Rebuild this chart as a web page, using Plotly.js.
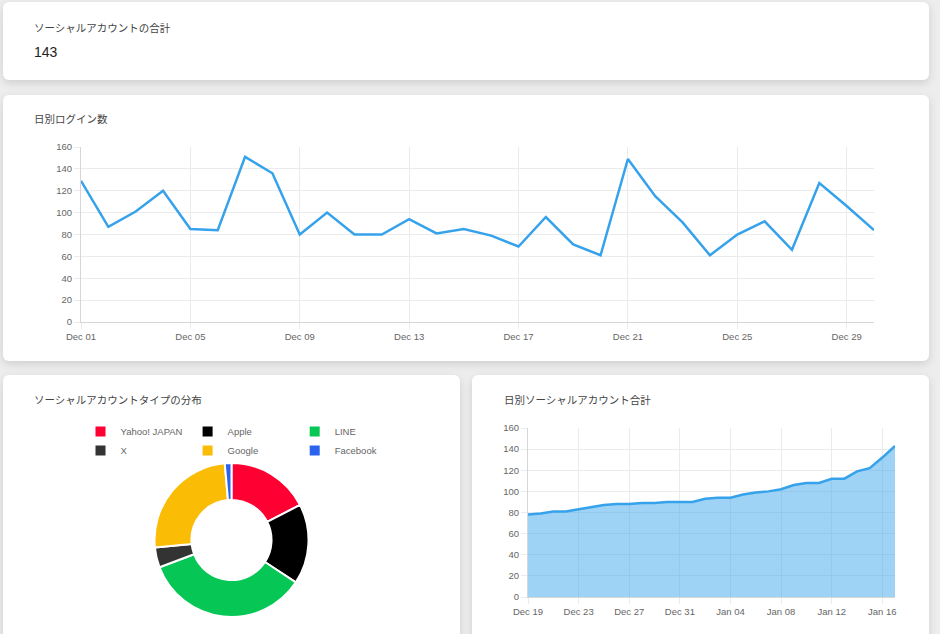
<!DOCTYPE html>
<html>
<head>
<meta charset="utf-8">
<script src="https://cdn.plot.ly/plotly-3.0.1.min.js"></script>
<style>
  html, body { margin: 0; padding: 0; background: #ededed; width: 940px; height: 634px; overflow: hidden; }
  .card { position: absolute; background: #fff; border-radius: 6px; box-shadow: 0 3px 8px rgba(0,0,0,0.13); overflow: hidden; }
  .label { position: absolute; font-family: "Noto Sans CJK JP", sans-serif; font-size: 10.5px; color: #444; }
  .big { position: absolute; font-family: "Liberation Sans", Arial, sans-serif; font-size: 14px; color: #222; }
</style>
</head>
<body>
<div class="card" id="card1" style="left:3px; top:2px; width:926px; height:78px;">
  <div class="label" style="left:31px; top:18px;">ソーシャルアカウントの合計</div>
  <div class="big" id="totalNum" style="left:31px; top:42px;"></div>
</div>
<div class="card" style="left:3px; top:95px; width:926px; height:266px;"><div id="loginChart"></div></div>
<div class="card" style="left:3px; top:375px; width:457px; height:270px;"><div id="typeChart"></div></div>
<div class="card" style="left:472px; top:375px; width:457px; height:270px;"><div id="totalChart"></div></div>
<script>
// daily logins
var loginDates = ['2024-12-01','2024-12-02','2024-12-03','2024-12-04','2024-12-05','2024-12-06','2024-12-07','2024-12-08','2024-12-09','2024-12-10',
  '2024-12-11','2024-12-12','2024-12-13','2024-12-14','2024-12-15','2024-12-16','2024-12-17','2024-12-18','2024-12-19','2024-12-20',
  '2024-12-21','2024-12-22','2024-12-23','2024-12-24','2024-12-25','2024-12-26','2024-12-27','2024-12-28','2024-12-29','2024-12-30'];
var loginCounts = [129, 87, 101, 120, 85, 84, 151, 136, 80, 100,
  80, 80, 94, 81, 85, 79, 69, 96, 71, 61,
  149, 115, 91, 61, 80, 92, 66, 127, 106, 84];

// account types
var typeLabels = ['Yahoo! JAPAN', 'Apple', 'LINE', 'X', 'Google', 'Facebook'];
var typeCounts = [25, 24, 50, 6, 36, 2];
var typeColors = ['#FF0033', '#000000', '#06C755', '#333333', '#FBBC05', '#2B63EE'];

// daily account totals
var accountDates = ['2024-12-19','2024-12-20','2024-12-21','2024-12-22','2024-12-23','2024-12-24','2024-12-25','2024-12-26','2024-12-27','2024-12-28',
  '2024-12-29','2024-12-30','2024-12-31','2025-01-01','2025-01-02','2025-01-03','2025-01-04','2025-01-05','2025-01-06','2025-01-07',
  '2025-01-08','2025-01-09','2025-01-10','2025-01-11','2025-01-12','2025-01-13','2025-01-14','2025-01-15','2025-01-16','2025-01-17'];
var accountTotals = [78, 79, 81, 81, 83, 85, 87, 88, 88, 89,
  89, 90, 90, 90, 93, 94, 94, 97, 99, 100,
  102, 106, 108, 108, 112, 112, 119, 122, 132, 143];

var totalAccounts = 143;
document.getElementById('totalNum').textContent = totalAccounts;

var DAY = 86400000;
var tickFont = {family: 'Liberation Sans, Arial, sans-serif', size: 9.5, color: '#666'};
var titleFont = {family: 'Noto Sans CJK JP, sans-serif', size: 10.5, color: '#444'};
var blue = 'rgb(54,162,235)';
var config = {displayModeBar: false, staticPlot: true};

function xAxis(range, tick0) {
  return {
    type: 'date', range: range, tick0: tick0, dtick: 4 * DAY, tickformat: '%b %d',
    showgrid: true, gridcolor: '#ebebeb', showline: true, linecolor: '#d6d6d6',
    ticks: 'outside', ticklen: 6, tickcolor: '#ebebeb', tickfont: tickFont, zeroline: false
  };
}
function yAxis() {
  return {
    range: [0, 160], dtick: 20, showgrid: true, gridcolor: '#ebebeb', showline: true, linecolor: '#d6d6d6',
    ticks: 'outside', ticklen: 6, tickcolor: '#ebebeb', tickfont: tickFont, zeroline: false
  };
}

Plotly.newPlot('loginChart', [{
  x: loginDates, y: loginCounts, type: 'scatter', mode: 'lines',
  line: {color: blue, width: 2.5}
}], {
  width: 926, height: 266,
  margin: {l: 78, r: 55, t: 52, b: 39},
  paper_bgcolor: 'rgba(0,0,0,0)', plot_bgcolor: 'rgba(0,0,0,0)',
  title: {text: '日別ログイン数', font: titleFont, xref: 'container', yref: 'container',
    x: 31 / 926, xanchor: 'left', y: 1 - 24 / 266, yanchor: 'middle'},
  xaxis: xAxis([loginDates[0], loginDates[loginDates.length - 1]], loginDates[0]),
  yaxis: yAxis(),
  showlegend: false
}, config);

Plotly.newPlot('typeChart', [{
  type: 'pie', labels: typeLabels, values: typeCounts, hole: 0.52,
  sort: false, direction: 'clockwise', rotation: 0,
  marker: {colors: typeColors, line: {color: '#fff', width: 2}},
  textinfo: 'none'
}], {
  width: 457, height: 270,
  margin: {l: 48, r: 48, t: 88, b: 28},
  paper_bgcolor: 'rgba(0,0,0,0)',
  title: {text: 'ソーシャルアカウントタイプの分布', font: titleFont, xref: 'container', yref: 'container',
    x: 31 / 457, xanchor: 'left', y: 1 - 25 / 270, yanchor: 'middle'},
  showlegend: true,
  legend: {orientation: 'h', x: 0.5, xanchor: 'center', y: 1 + (88 - 42) / 154, yanchor: 'top',
    font: tickFont, itemwidth: 30, traceorder: 'normal'}
}, config);

Plotly.newPlot('totalChart', [{
  x: accountDates, y: accountTotals, type: 'scatter', mode: 'lines',
  fill: 'tozeroy', fillcolor: 'rgba(54,162,235,0.48)',
  line: {color: blue, width: 2.5}
}], {
  width: 457, height: 270,
  margin: {l: 56, r: 34, t: 53, b: 48},
  paper_bgcolor: 'rgba(0,0,0,0)', plot_bgcolor: 'rgba(0,0,0,0)',
  title: {text: '日別ソーシャルアカウント合計', font: titleFont, xref: 'container', yref: 'container',
    x: 32 / 457, xanchor: 'left', y: 1 - 25 / 270, yanchor: 'middle'},
  xaxis: xAxis([accountDates[0], accountDates[accountDates.length - 1]], accountDates[0]),
  yaxis: yAxis(),
  showlegend: false
}, config);
</script>
</body>
</html>
